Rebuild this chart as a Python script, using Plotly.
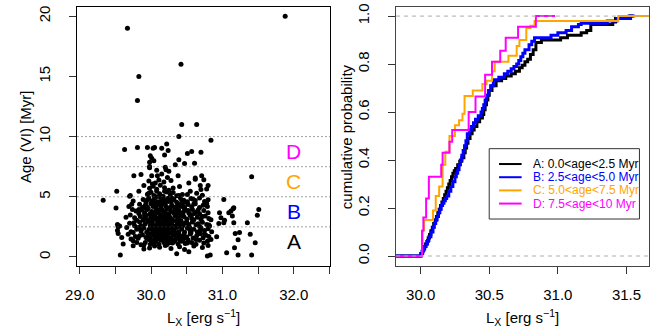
import plotly.graph_objects as go
from plotly.subplots import make_subplots

# ---------------- data: left panel (L_X, age) ----------------
lx = [
    29.57, 30.36, 30.53, 30.79, 30.83, 31.06, 31.22, 31.41,
    29.90, 29.98, 30.05, 30.12, 30.20, 30.28, 30.40, 30.47, 30.60, 30.72, 30.80, 31.17, 29.75,
    29.61, 29.75, 29.86, 29.92, 29.97, 30.02, 30.07, 30.11, 30.14, 30.18, 30.22, 30.26, 30.30, 30.34,
    30.38, 30.43, 30.48, 30.52, 30.57, 30.63, 30.68, 30.74, 30.79, 30.84, 31.22, 31.46, 30.00, 30.09,
    30.20, 30.40,
    29.54, 29.59, 29.68, 29.78, 29.82, 29.88, 29.93, 29.98, 30.01, 30.04, 30.08, 30.10, 30.13, 30.16,
    30.19, 30.22, 30.25, 30.28, 30.31, 30.35, 30.38, 30.42, 30.46, 30.50, 30.55, 30.59, 30.64, 30.69,
    30.73, 30.77, 30.81, 30.92, 31.18, 31.39, 30.06, 30.24,
    29.53, 29.66, 29.72, 29.75, 29.80, 29.82, 29.86, 29.90, 29.94, 29.97, 30.00, 30.03, 30.06, 30.09,
    30.12, 30.15, 30.17, 30.20, 30.23, 30.26, 30.29, 30.32, 30.36, 30.39, 30.43, 30.47, 30.51, 30.55,
    30.60, 30.65, 30.70, 30.75, 30.80, 30.85, 31.24, 30.14,
    29.53, 29.54, 29.56, 29.70, 29.77, 29.84, 29.88, 29.92, 29.96, 29.99, 30.02, 30.05, 30.08, 30.11,
    30.14, 30.17, 30.20, 30.23, 30.26, 30.29, 30.33, 30.37, 30.41, 30.45, 30.49, 30.53, 30.58, 30.63,
    30.68, 30.72, 30.78, 30.82, 30.95, 31.02, 31.16, 31.35, 30.10,
    29.71, 29.77, 29.80, 29.85, 29.90, 29.93, 29.97, 30.00, 30.03, 30.06, 30.09, 30.12, 30.15, 30.18,
    30.21, 30.24, 30.27, 30.30, 30.34, 30.38, 30.42, 30.46, 30.50, 30.55, 30.60, 30.65, 30.70, 30.76,
    30.81, 30.98, 31.03, 31.14, 31.49, 30.13,
    29.79, 29.83, 29.87, 29.91, 29.95, 29.98, 30.01, 30.04, 30.07, 30.10, 30.13, 30.16, 30.19, 30.22,
    30.25, 30.28, 30.32, 30.36, 30.40, 30.44, 30.48, 30.53, 30.58, 30.63, 30.68, 30.74, 30.80, 30.96,
    31.09, 31.12, 31.51,
    29.51, 29.73, 29.84, 29.88, 29.92, 29.96, 30.00, 30.03, 30.07, 30.10, 30.14, 30.17, 30.21, 30.25,
    30.29, 30.33, 30.38, 30.42, 30.47, 30.52, 30.57, 30.62, 30.68, 30.73, 30.79, 31.16, 31.15,
    29.33, 29.75, 29.89, 29.93, 29.97, 30.01, 30.05, 30.09, 30.13, 30.16, 30.20, 30.24, 30.28, 30.32,
    30.36, 30.41, 30.46, 30.51, 30.56, 30.62, 30.68, 30.75, 30.80, 31.02,
    29.52, 29.70, 29.71, 29.83, 29.95, 30.00, 30.04, 30.08, 30.12, 30.17, 30.22, 30.27, 30.31, 30.36,
    30.44, 30.51, 30.55, 30.64, 30.72,
    29.90, 29.98, 30.03, 30.08, 30.13, 30.19, 30.25, 30.31, 30.40, 30.69, 30.70, 30.78, 30.80,
    29.97, 30.06, 30.11, 30.18, 30.28, 30.53, 30.62, 30.74, 30.02,
    29.76, 29.86, 30.01, 30.09, 30.15, 30.38, 30.62, 30.71, 31.41, 30.23,
    30.21, 30.25, 30.20, 29.98, 30.08,
    29.98, 30.34, 29.98, 30.04, 30.47, 30.61, 30.39, 30.01, 29.99, 30.19, 30.57, 30.51, 30.70, 30.24,
    29.63, 29.81, 29.95, 30.03, 30.05, 30.15, 30.22, 30.84, 30.39,
    30.43, 30.64, 29.81, 29.83, 30.42, 29.67, 31.88,
    29.95, 30.05, 30.15, 30.25, 30.35, 30.45, 30.00, 30.10, 30.20, 30.30, 30.40, 30.50, 29.92, 30.02,
    30.12, 30.22, 30.32, 30.42, 30.52, 29.94, 30.04, 30.14, 30.24, 30.34, 30.44, 30.06, 30.16, 30.26,
    30.36, 30.46, 30.56, 30.61, 30.66, 29.86, 29.83, 29.96, 30.19, 30.29, 30.39, 30.49, 30.59, 30.09,
    30.18, 30.28, 30.38, 30.47, 30.57, 30.03, 30.13, 30.23, 30.33, 30.43, 30.53, 29.90, 30.00, 30.10,
    30.20, 30.30, 30.40,
    29.80, 29.84, 29.87, 29.89, 29.91, 29.93, 29.95, 29.97, 29.99, 30.01, 30.03, 30.05, 30.07, 30.09,
    30.11, 30.13, 30.15, 30.17, 30.19, 30.21, 30.23, 30.25, 30.27, 30.29, 30.31, 30.33, 30.35, 30.37,
    30.39, 30.41, 30.43, 30.45, 30.48, 30.51, 30.54, 30.57, 30.60, 30.63, 30.66, 30.69, 30.72, 30.75,
    30.78, 30.81, 30.84, 29.74, 29.76, 29.72, 29.69, 29.65,
]
age = [
    0.16, 0.27, 0.44, 0.08, 0.16, 0.35, 0.16, 0.16,
    0.66, 0.75, 0.90, 0.80, 0.95, 0.70, 0.85, 0.62, 0.90, 0.78, 0.95, 0.77, 0.92,
    1.07, 1.34, 1.01, 1.20, 1.45, 1.10, 1.30, 1.05, 1.40, 1.20, 1.02, 1.35, 1.15, 1.45,
    1.08, 1.30, 1.12, 1.40, 1.20, 1.05, 1.38, 1.15, 1.30, 1.45, 1.43, 1.18, 1.40, 1.48,
    1.44, 1.42,
    1.94, 1.61, 1.89, 1.70, 1.55, 1.85, 1.62, 1.61, 1.95, 1.75, 1.58, 1.90, 1.68, 1.85,
    1.55, 1.78, 1.95, 1.60, 1.82, 1.70, 1.92, 1.55, 1.80, 1.65, 1.90, 1.58, 1.75, 1.92,
    1.60, 1.80, 1.70, 1.67, 1.94, 1.89, 1.52, 1.62,
    2.20, 2.44, 2.10, 2.03, 2.30, 2.44, 2.15, 2.40, 2.05, 2.28, 2.45, 2.12, 2.35, 2.02,
    2.22, 2.42, 2.08, 2.30, 2.15, 2.40, 2.05, 2.25, 2.45, 2.10, 2.32, 2.05, 2.38, 2.15,
    2.30, 2.08, 2.42, 2.20, 2.35, 2.10, 2.03, 2.03,
    2.69, 2.50, 2.58, 2.80, 2.60, 2.90, 2.55, 2.75, 2.95, 2.62, 2.85, 2.52, 2.70, 2.92,
    2.60, 2.80, 2.55, 2.98, 2.70, 2.85, 2.58, 2.78, 2.95, 2.62, 2.82, 2.55, 2.90, 2.68,
    2.52, 2.88, 2.70, 2.58, 2.77, 2.85, 2.85, 2.85, 2.50,
    3.48, 3.26, 3.05, 3.35, 3.15, 3.45, 3.08, 3.30, 3.12, 3.42, 3.20, 3.02, 3.38, 3.18,
    3.48, 3.05, 3.28, 3.10, 3.40, 3.22, 3.02, 3.35, 3.15, 3.45, 3.08, 3.30, 3.12, 3.40,
    3.20, 3.26, 3.05, 3.40, 3.46, 3.28,
    3.81, 3.60, 3.90, 3.68, 3.95, 3.55, 3.78, 3.62, 3.92, 3.70, 3.52, 3.85, 3.65, 3.98,
    3.58, 3.80, 3.62, 3.92, 3.70, 3.55, 3.88, 3.65, 3.95, 3.72, 3.58, 3.85, 3.68, 3.67,
    3.67, 3.81, 3.95,
    4.06, 4.37, 4.37, 4.10, 4.30, 4.05, 4.42, 4.20, 4.08, 4.35, 4.15, 4.45, 4.22, 4.05,
    4.32, 4.12, 4.40, 4.20, 4.08, 4.35, 4.18, 4.42, 4.10, 4.30, 4.20, 4.09, 4.00,
    4.70, 4.64, 4.78, 4.55, 4.90, 4.65, 4.85, 4.58, 4.95, 4.72, 4.52, 4.88, 4.62, 4.80,
    4.55, 4.92, 4.70, 4.58, 4.85, 4.68, 4.90, 4.60, 4.75, 4.78,
    5.46, 5.05, 5.10, 5.46, 5.20, 5.38, 5.10, 5.45, 5.25, 5.05, 5.40, 5.18, 5.35, 5.08,
    5.19, 5.19, 5.46, 5.30, 5.12,
    5.93, 5.70, 5.88, 5.62, 5.95, 5.75, 5.55, 5.73, 5.85, 5.93, 5.60, 5.65, 5.93,
    6.30, 6.15, 6.40, 6.22, 6.35, 6.14, 6.45, 6.42, 6.05,
    6.75, 6.84, 6.75, 6.75, 6.90, 6.75, 6.56, 6.75, 6.67, 6.60,
    7.25, 7.11, 7.46, 7.40, 7.20,
    7.52, 7.66, 7.87, 7.99, 7.77, 7.79, 8.07, 8.20, 8.40, 8.48, 8.76, 8.60, 8.70, 8.84,
    8.92, 9.10, 9.10, 9.03, 9.10, 9.03, 9.39, 9.70, 10.00,
    11.0, 11.0, 13.0, 15.0, 16.0, 19.0, 20.0,
    1.55, 1.25, 1.70, 1.15, 1.90, 1.45, 2.60, 2.15, 2.85, 2.40, 2.55, 2.90, 3.20, 3.60,
    3.90, 3.30, 3.75, 3.45, 3.85, 4.20, 4.50, 4.25, 4.60, 4.00, 4.45, 1.85, 2.55, 3.10,
    3.55, 4.15, 2.00, 3.60, 2.75, 2.60, 3.95, 1.90, 1.95, 2.95, 3.85, 1.60, 4.80, 3.00,
    4.80, 1.50, 2.70, 3.90, 3.20, 2.30, 4.60, 2.20, 1.30, 4.70, 2.70, 1.00, 1.80, 2.80,
    3.70, 4.70, 1.60,
    1.20, 1.75, 2.35, 3.05, 3.50, 4.05, 4.75, 5.30, 1.05, 2.70, 3.40, 4.30, 5.00, 1.65,
    2.45, 3.15, 3.95, 4.65, 5.45, 1.35, 2.60, 3.35, 4.10, 4.90, 1.25, 2.10, 3.00, 4.25,
    5.10, 1.75, 2.85, 3.70, 4.55, 1.15, 2.45, 3.50, 4.40, 1.45, 3.90, 2.20, 3.35, 1.90,
    4.45, 2.65, 3.10, 3.95, 2.85, 1.50, 4.20, 3.30,
]

age_bounds = [2.5, 5.0, 7.5, 10.0]
group_letters = ["A", "B", "C", "D"]
group_letter_age = [1.25, 3.75, 6.25, 8.75]
group_names = ["A: 0.0<age<2.5 Myr", "B: 2.5<age<5.0 Myr", "C: 5.0<age<7.5 Myr", "D: 7.5<age<10 Myr"]
colors = ["#000000", "#0000ff", "#ffa500", "#ff00ff"]
widths = [3, 3, 2, 2]

# ---------------- data: right panel, empirical CDF steps (L_X, cumulative fraction) ----------------
cdf_A = [(29.82, 0.0), (30.005, 0.01), (30.015, 0.025), (30.025, 0.04), (30.035, 0.05), (30.045, 0.06),
         (30.055, 0.075), (30.065, 0.09), (30.075, 0.105), (30.085, 0.12), (30.095, 0.135),
         (30.105, 0.15), (30.115, 0.165), (30.125, 0.18), (30.135, 0.195), (30.145, 0.21),
         (30.155, 0.225), (30.165, 0.24), (30.175, 0.255), (30.185, 0.27), (30.195, 0.285),
         (30.205, 0.30), (30.215, 0.315), (30.225, 0.33), (30.235, 0.345), (30.245, 0.355),
         (30.255, 0.365), (30.27, 0.38), (30.285, 0.395), (30.30, 0.41), (30.315, 0.43),
         (30.325, 0.45), (30.335, 0.47), (30.345, 0.49), (30.36, 0.51), (30.375, 0.525),
         (30.39, 0.54), (30.41, 0.56), (30.43, 0.575), (30.45, 0.59), (30.46, 0.61), (30.47, 0.63),
         (30.48, 0.65), (30.49, 0.67), (30.50, 0.69), (30.52, 0.71), (30.55, 0.73), (30.59, 0.74),
         (30.62, 0.75), (30.66, 0.76), (30.69, 0.77), (30.72, 0.785), (30.74, 0.795), (30.76, 0.81),
         (30.78, 0.82), (30.80, 0.84), (30.82, 0.86), (30.84, 0.89), (30.88, 0.90), (31.02, 0.91),
         (31.07, 0.92), (31.17, 0.93), (31.21, 0.94), (31.24, 0.965), (31.40, 0.975), (31.42, 0.99),
         (31.52, 1.0), (31.55, 1.0)]
cdf_B = [(29.82, 0.0), (30.00, 0.01), (30.01, 0.02), (30.02, 0.03), (30.03, 0.04), (30.04, 0.05),
         (30.05, 0.065), (30.06, 0.08), (30.075, 0.10), (30.09, 0.12), (30.10, 0.135), (30.11, 0.15),
         (30.12, 0.165), (30.13, 0.18), (30.14, 0.195), (30.15, 0.21), (30.16, 0.22), (30.17, 0.23),
         (30.18, 0.24), (30.19, 0.25), (30.205, 0.27), (30.22, 0.29), (30.235, 0.31), (30.25, 0.33),
         (30.26, 0.345), (30.27, 0.36), (30.28, 0.38), (30.29, 0.40), (30.30, 0.42), (30.31, 0.44),
         (30.32, 0.46), (30.33, 0.48), (30.34, 0.51), (30.355, 0.525), (30.37, 0.54), (30.385, 0.555),
         (30.40, 0.57), (30.42, 0.585), (30.44, 0.60), (30.45, 0.615), (30.46, 0.63), (30.47, 0.65),
         (30.48, 0.67), (30.495, 0.69), (30.51, 0.71), (30.53, 0.735), (30.57, 0.745), (30.61, 0.76),
         (30.635, 0.77), (30.66, 0.78), (30.68, 0.79), (30.70, 0.80), (30.715, 0.815), (30.73, 0.83),
         (30.745, 0.845), (30.76, 0.86), (30.79, 0.88), (30.81, 0.895), (30.83, 0.91), (30.95, 0.92),
         (31.00, 0.93), (31.06, 0.94), (31.10, 0.955), (31.15, 0.965), (31.17, 0.97), (31.36, 0.98),
         (31.43, 0.99), (31.53, 1.0), (31.56, 1.0)]
cdf_C = [(29.82, 0.0), (30.01, 0.05), (30.015, 0.107), (30.025, 0.15), (30.09, 0.19), (30.11, 0.25),
         (30.135, 0.29), (30.16, 0.38), (30.18, 0.435), (30.21, 0.50), (30.25, 0.545), (30.28, 0.566),
         (30.305, 0.593), (30.32, 0.667), (30.38, 0.69), (30.45, 0.717), (30.48, 0.73), (30.52, 0.77),
         (30.54, 0.81), (30.64, 0.835), (30.70, 0.875), (30.72, 0.90), (30.77, 0.95), (30.80, 0.96),
         (30.83, 0.98), (31.44, 1.0), (31.70, 1.0)]
cdf_D = [(29.82, 0.0), (30.01, 0.105), (30.02, 0.16), (30.04, 0.24), (30.06, 0.33), (30.15, 0.38),
         (30.16, 0.43), (30.21, 0.476), (30.23, 0.525), (30.35, 0.60), (30.40, 0.665), (30.47, 0.755),
         (30.52, 0.81), (30.58, 0.855), (30.62, 0.91), (30.71, 0.955), (30.84, 1.0), (30.98, 1.0)]
cdfs = [cdf_A, cdf_B, cdf_C, cdf_D]

FONT = "Liberation Sans, Arial, Helvetica, sans-serif"
W, H = 664, 332

fig = make_subplots(rows=1, cols=2)

fig.add_trace(go.Scatter(x=lx, y=age, mode="markers",
                         marker=dict(color="black", size=5, line=dict(width=0)),
                         showlegend=False), row=1, col=1)

for i in range(4):
    fig.add_trace(go.Scatter(x=[p[0] for p in cdfs[i]], y=[p[1] for p in cdfs[i]],
                             mode="lines", line_shape="hv",
                             line=dict(color=colors[i], width=widths[i]),
                             name=group_names[i], showlegend=False), row=1, col=2)

# reference lines
for b in age_bounds:
    fig.add_shape(type="line", xref="x domain", yref="y", x0=0, x1=1, y0=b, y1=b,
                  line=dict(color="#444444", width=1, dash="1px,3px"))
for v in [0.0, 1.0]:
    fig.add_shape(type="line", xref="x2 domain", yref="y2", x0=0, x1=1, y0=v, y1=v,
                  line=dict(color="#aaaaaa", width=1, dash="4px,4px"))

# group letters
for i in range(4):
    fig.add_annotation(x=32.0, y=group_letter_age[i], xref="x", yref="y", text=group_letters[i],
                       showarrow=False, xanchor="center", yanchor="middle",
                       font=dict(family=FONT, size=21, color=colors[i]))

def P(px, py):
    return px / W, (H - py) / H

# legend box
lx0, ly0 = P(486, 147)
lx1, ly1 = P(639, 218)
fig.add_shape(type="rect", xref="paper", yref="paper", x0=lx0, y0=ly1, x1=lx1, y1=ly0,
              line=dict(color="#333333", width=1), fillcolor="white")
row_y = [162.5, 175.8, 189.1, 202.4]
for i in range(4):
    a0, b0 = P(496, row_y[i])
    a1, _ = P(519, row_y[i])
    fig.add_shape(type="line", xref="paper", yref="paper", x0=a0, y0=b0, x1=a1, y1=b0,
                  line=dict(color=colors[i], width=2))
    tx, ty = P(529, row_y[i])
    fig.add_annotation(x=tx, y=ty, xref="paper", yref="paper", text=group_names[i].replace("<", "&lt;"),
                       showarrow=False, xanchor="left", yanchor="middle",
                       font=dict(family=FONT, size=12, color=colors[i]))

# axis titles
xt = "L<sub>X</sub> [erg s<sup>−1</sup>]"
ax, ay = P(195.3, 305)
fig.add_annotation(x=ax, y=ay, xref="paper", yref="paper", text=xt, showarrow=False,
                   xanchor="center", yanchor="top", font=dict(family=FONT, size=15, color="black"))
ax, ay = P(519.8, 305)
fig.add_annotation(x=ax, y=ay, xref="paper", yref="paper", text=xt, showarrow=False,
                   xanchor="center", yanchor="top", font=dict(family=FONT, size=15, color="black"))
ax, ay = P(14, 134.5)
fig.add_annotation(x=ax, y=ay, xref="paper", yref="paper", text="Age (VI) [Myr]", showarrow=False,
                   xanchor="center", yanchor="middle", textangle=-90,
                   font=dict(family=FONT, size=15, color="black"))
ax, ay = P(340, 134.5)
fig.add_annotation(x=ax, y=ay, xref="paper", yref="paper", text="cumulative probability", showarrow=False,
                   xanchor="center", yanchor="middle", textangle=-90,
                   font=dict(family=FONT, size=15, color="black"))

axis_common = dict(showgrid=False, zeroline=False, showline=True, mirror=True, ticks="outside",
                   ticklen=7, tickwidth=1, tickcolor="#333333",
                   tickfont=dict(family=FONT, size=15, color="black"))

x1_ticks = [29.0, 29.5, 30.0, 30.5, 31.0, 31.5, 32.0, 32.5]
x1_text = ["29.0", "", "30.0", "", "31.0", "", "32.0", ""]

fig.update_xaxes(domain=[66.7 / W, 324 / W], range=[28.97, 32.51], tickvals=x1_ticks, ticktext=x1_text,
                 linecolor="black", ticklabelstandoff=8, row=1, col=1, **axis_common)
fig.update_yaxes(domain=[(H - 265) / H, (H - 4) / H], range=[-0.72, 20.77], tickvals=[0, 5, 10, 15, 20],
                 tickangle=-90, linecolor="black", ticklabelstandoff=13, row=1, col=1, **axis_common)
fig.update_xaxes(domain=[391 / W, 648.7 / W], range=[29.82, 31.664], tickvals=[30.0, 30.5, 31.0, 31.5],
                 tickformat=".1f", linecolor="#444444", ticklabelstandoff=8, row=1, col=2, **axis_common)
fig.update_yaxes(domain=[(H - 265) / H, (H - 4) / H], range=[-0.04, 1.038],
                 tickvals=[0.0, 0.2, 0.4, 0.6, 0.8, 1.0], tickformat=".1f",
                 tickangle=-90, linecolor="#444444", ticklabelstandoff=13, row=1, col=2, **axis_common)

fig.update_layout(width=W, height=H, margin=dict(l=0, r=0, t=0, b=0),
                  paper_bgcolor="white", plot_bgcolor="white", showlegend=False,
                  font=dict(family=FONT))

fig.write_html("out.html", config={"displayModeBar": False},
               post_script="document.body.style.margin='0';document.body.style.padding='0';"
                           "document.body.style.overflow='hidden';")
